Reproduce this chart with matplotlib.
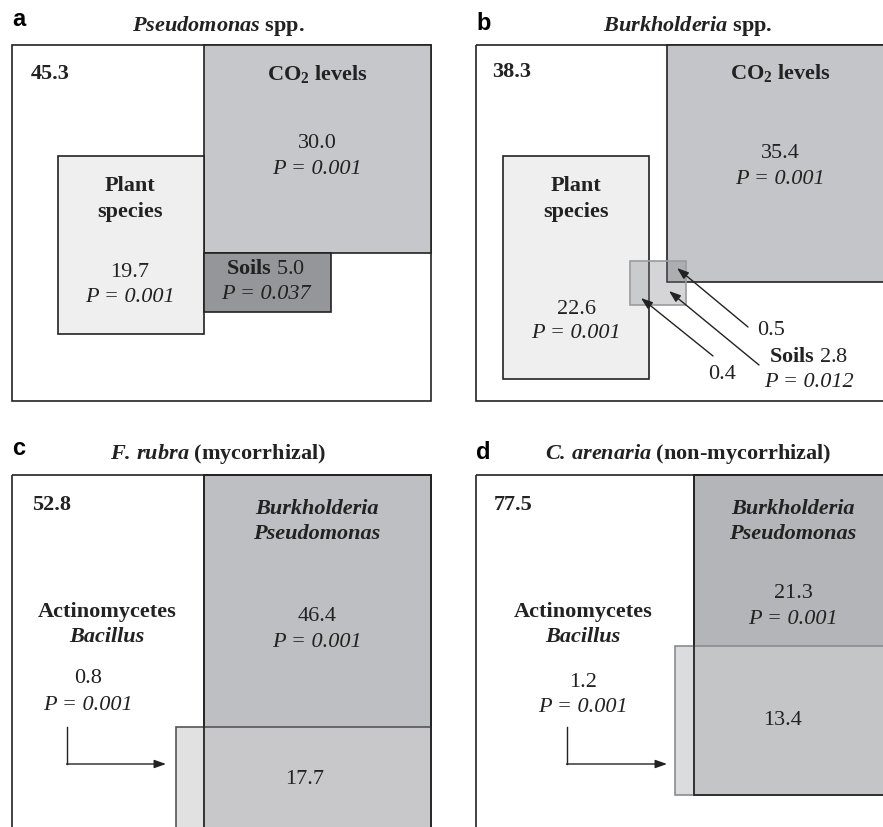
import matplotlib
matplotlib.use("Agg")
import matplotlib.pyplot as plt
from matplotlib.patches import Rectangle

plt.rcParams["font.family"] = ["Liberation Serif", "DejaVu Serif"]
plt.rcParams["mathtext.fontset"] = "custom"
plt.rcParams["mathtext.rm"] = "Liberation Serif"
plt.rcParams["mathtext.it"] = "Liberation Serif:italic"
plt.rcParams["mathtext.bf"] = "Liberation Serif:bold"
plt.rcParams["mathtext.bfit"] = "Liberation Serif:italic:bold"

# data (variance explained, %)
panel_letters = ["a", "b", "c", "d"]
panel_titles = [r"$\mathbfit{Pseudomonas}$ spp.",
                r"$\mathbfit{Burkholderia}$ spp.",
                r"$\mathbfit{F.\,rubra}$ (mycorrhizal)",
                r"$\mathbfit{C.\,arenaria}$ (non-mycorrhizal)"]
unexplained = [45.3, 38.3, 52.8, 77.5]

# a, b: plant species / CO2 / soils
plant_vals = [19.7, 22.6]
plant_p = [0.001, 0.001]
co2_vals = [30.0, 35.4]
co2_p = [0.001, 0.001]
soil_vals = [5.0, 2.8]
soil_p = [0.037, 0.012]
b_shared = [0.4, 0.5]   # plant&soil, co2&soil

# c, d: Burkholderia/Pseudomonas vs Actinomycetes/Bacillus
bp_vals = [46.4, 21.3]
bp_p = [0.001, 0.001]
ab_vals = [0.8, 1.2]
ab_p = [0.001, 0.001]
shared_vals = [17.7, 13.4]

FS = 16
fig = plt.figure(figsize=(8.83, 8.28), dpi=100)
ax = fig.add_axes([0, 0, 1, 1])
ax.set_xlim(0, 883)
ax.set_ylim(828, 0)
ax.axis("off")


def box(x, y, w, h, fc="none", ec="#222222", lw=1.2, z=1):
    ax.add_patch(Rectangle((x, y), w, h, facecolor=fc, edgecolor=ec, lw=lw, zorder=z))


def txt(x, y, s, **kw):
    kw.setdefault("fontsize", FS)
    ax.text(x, y, s, ha=kw.pop("ha", "center"), va=kw.pop("va", "center"),
            color="#222222", zorder=10, **kw)


def ptxt(p):
    return "P = %.3f" % p


# panel headers
letter_pos = [(12, 26), (476, 30), (12, 455), (476, 459)]
title_pos = [(218, 31), (688, 31), (218, 459), (688, 459)]
for i in range(4):
    ax.text(letter_pos[i][0], letter_pos[i][1], panel_letters[i], family="Liberation Sans",
            fontweight="bold", fontsize=17, va="baseline", ha="left")
    txt(title_pos[i][0], title_pos[i][1], panel_titles[i], fontweight="bold", va="baseline")

# ---- panel a ----
box(12, 46, 419, 356)
box(204, 46, 227, 208, fc="#c6c7ca", z=2)
box(58, 157, 146, 178, fc="#efefef", z=2)
box(204, 254, 127, 59, fc="#949699", z=2)
txt(50, 74, "%.1f" % unexplained[0], fontweight="bold")
txt(317, 74, r"$\mathbf{CO_2}$ levels", fontweight="bold")
txt(317, 144, "%.1f" % co2_vals[0])
txt(317, 170, ptxt(co2_p[0]), style="italic")
txt(130, 186, "Plant", fontweight="bold")
txt(130, 212, "species", fontweight="bold")
txt(130, 273, "%.1f" % plant_vals[0])
txt(130, 298, ptxt(plant_p[0]), style="italic")
txt(266, 270, r"$\mathbf{Soils}$ %.1f" % soil_vals[0])
txt(266, 295, ptxt(soil_p[0]), style="italic")

# ---- panel b ----
box(476, 46, 420, 356)
box(667, 46, 230, 237, fc="#c4c5c8", z=2)
box(503, 157, 146, 223, fc="#efefef", z=2)
ax.add_patch(Rectangle((630, 262), 56, 44, facecolor=(0.50, 0.51, 0.53, 0.33),
                       edgecolor="#9a9b9e", lw=1.2, zorder=3))
txt(512, 72, "%.1f" % unexplained[1], fontweight="bold")
txt(780, 73, r"$\mathbf{CO_2}$ levels", fontweight="bold")
txt(780, 154, "%.1f" % co2_vals[1])
txt(780, 179, ptxt(co2_p[1]), style="italic")
txt(576, 186, "Plant", fontweight="bold")
txt(576, 212, "species", fontweight="bold")
txt(576, 310, "%.1f" % plant_vals[1])
txt(576, 334, ptxt(plant_p[1]), style="italic")
txt(771, 331, "%.1f" % b_shared[1])
txt(809, 358, r"$\mathbf{Soils}$ %.1f" % soil_vals[1])
txt(809, 383, ptxt(soil_p[1]), style="italic")
txt(722, 375, "%.1f" % b_shared[0])
arrow = dict(arrowstyle="-|>,head_length=0.7,head_width=0.25", color="#222222", lw=1.0,
             shrinkA=0, shrinkB=0)
for tail, head in [((748, 328), (677, 269)), ((759, 366), (669, 292)), ((713, 357), (641, 299))]:
    ax.annotate("", xy=head, xytext=tail, arrowprops=arrow, zorder=11)

# ---- panels c, d ----
cd = [
    dict(ox=12, ow=419, bp=(204, 476, 227, 420), ab=(176, 728, 255, 200),
         bpc="#bebfc2", abc=(0.81, 0.812, 0.82, 0.62), abe="#555555",
         unx=52, bpx=317, abx=107, px=88, py=(679, 706), sx=305, sy=780,
         bpy=(617, 643), elbow=(67, 728, 765, 166)),
    dict(ox=476, ow=430, bp=(694, 476, 196, 320), ab=(675, 647, 215, 149),
         bpc="#b4b5b8", abc=(0.80, 0.802, 0.81, 0.69), abe="#8a8b8d",
         unx=513, bpx=793, abx=583, px=583, py=(683, 708), sx=783, sy=721,
         bpy=(594, 620), elbow=(567, 728, 765, 667)),
]
for k, c in enumerate(cd):
    i = k + 2
    box(c["ox"], 476, c["ow"], 400)
    x, y, w, h = c["bp"]
    box(x, y, w, h, fc=c["bpc"], z=2)
    ax.add_patch(Rectangle(c["ab"][:2], c["ab"][2], c["ab"][3], facecolor=c["abc"],
                           edgecolor=c["abe"], lw=1.2, zorder=3))
    box(x, y, w, h, z=4)
    txt(c["unx"], 505, "%.1f" % unexplained[i], fontweight="bold")
    txt(c["bpx"], 509, "Burkholderia", fontweight="bold", style="italic")
    txt(c["bpx"], 534, "Pseudomonas", fontweight="bold", style="italic")
    txt(c["bpx"], c["bpy"][0], "%.1f" % bp_vals[k])
    txt(c["bpx"], c["bpy"][1], ptxt(bp_p[k]), style="italic")
    txt(c["abx"], 612, "Actinomycetes", fontweight="bold")
    txt(c["abx"], 637, "Bacillus", fontweight="bold", style="italic")
    txt(c["px"], c["py"][0], "%.1f" % ab_vals[k])
    txt(c["px"], c["py"][1], ptxt(ab_p[k]), style="italic")
    txt(c["sx"], c["sy"], "%.1f" % shared_vals[k])
    ex, ey0, ey1, ex1 = c["elbow"]
    ax.plot([ex, ex], [ey0, ey1], color="#222222", lw=1.0, zorder=11)
    ax.annotate("", xy=(ex1, ey1), xytext=(ex - 0.5, ey1), arrowprops=arrow, zorder=11)

fig.savefig("out.png", dpi=100)
